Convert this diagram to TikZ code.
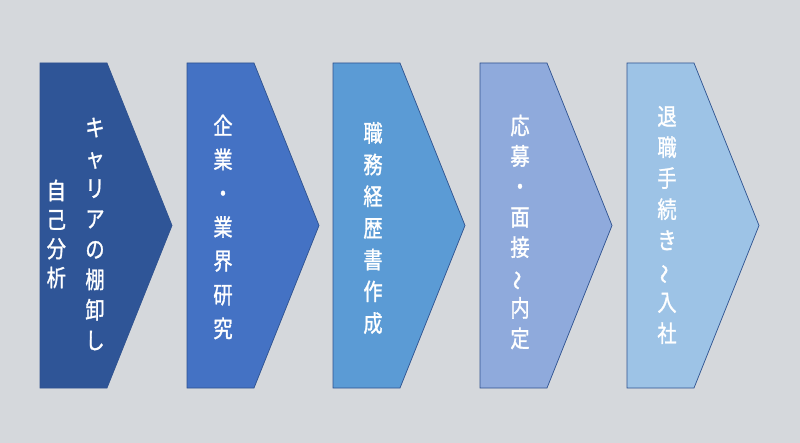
\documentclass[tikz,border=0pt]{standalone}
\usepackage{fontspec}
\newfontfamily\jpfont[FakeStretch=0.82, FakeBold=1.2]{Noto Sans CJK JP}
\usepackage{tikz}
\usetikzlibrary{positioning}
\definecolor{bggray}{HTML}{D5D8DC}
\definecolor{edgeblue}{HTML}{2F528F}
\definecolor{stepa}{HTML}{2F5597}
\definecolor{stepb}{HTML}{4472C4}
\definecolor{stepc}{HTML}{5B9BD5}
\definecolor{stepd}{HTML}{8FAADC}
\definecolor{stepe}{HTML}{9DC3E6}
\pgfmathsetmacro{\chevbody}{67}
\pgfmathsetmacro{\chevtip}{132}
\pgfmathsetmacro{\chevtop}{63}
\pgfmathsetmacro{\chevbot}{388}
\pgfmathsetmacro{\chevmid}{225.5}
\newcommand{\drawchevron}[2]{%
  \draw[chevron, fill=#2] (#1,\chevtop) -- (#1+\chevbody,\chevtop)
    -- (#1+\chevtip,\chevmid) -- (#1+\chevbody,\chevbot) -- (#1,\chevbot) -- cycle;}
\newcommand{\vwave}{\rotatebox[origin=c]{90}{～}}
\tikzset{
  chevron/.style={draw=edgeblue, line width=0.7pt, line join=miter},
  steptext/.style={text=white, font=\jpfont\fontsize{23.5}{#1}\selectfont,
    align=center, inner sep=0pt},
  steptext/.default=31,
}

\begin{document}
\begin{tikzpicture}[x=1pt, y=-1pt]
    % background
    \fill[bggray] (0,0) rectangle (800,443);
    \useasboundingbox (0,0) rectangle (800,443);
    % chevrons
    \drawchevron{40}{stepa}
    \drawchevron{187}{stepb}
    \drawchevron{333}{stepc}
    \drawchevron{480}{stepd}
    \drawchevron{627}{stepe}
    % step labels, written top to bottom
    \node[steptext=30.4] (career) at (95,234) {キ\\ャ\\リ\\ア\\の\\棚\\卸\\し};
    \node[steptext=29, left=19pt of career] (self) {自\\己\\分\\析};
    \node[steptext=33.8] (research) at (223,227) {企\\業\\・\\業\\界\\研\\究};
    \node[steptext=31.7] (resume) at (373,228) {職\\務\\経\\歴\\書\\作\\成};
    \node[steptext=30.4] (apply) at (520,232) {応\\募\\・\\面\\接\\\vwave\\内\\定};
    \node[steptext=31] (leave) at (667,225) {退\\職\\手\\続\\き\\\vwave\\入\\社};
\end{tikzpicture}
\end{document}
